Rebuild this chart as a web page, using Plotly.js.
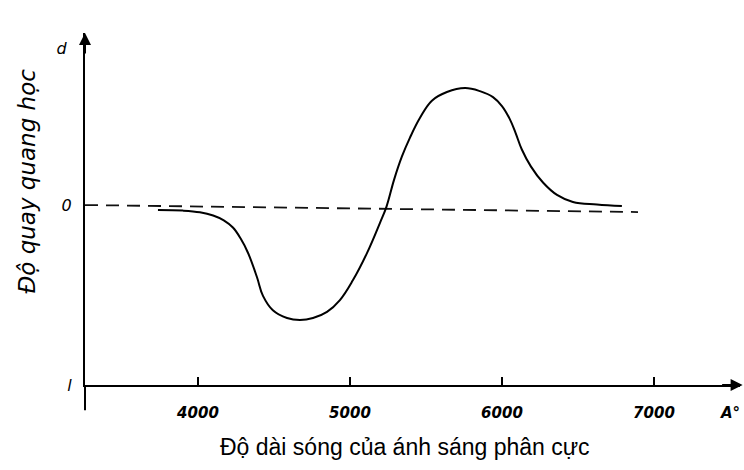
<!DOCTYPE html>
<html>
<head>
<meta charset="utf-8">
<script src="https://cdn.plot.ly/plotly-3.0.1.min.js"></script>
<style>html,body{margin:0;padding:0;background:#fff;}#chart{width:744px;height:470px;}</style>
</head>
<body>
<div id="chart"></div>
<script>
// Wavelength (Å) and optical rotation
const wavelength = [3737, 3901, 4013, 4100, 4170, 4230, 4280, 4329, 4388, 4428, 4493, 4586, 4671, 4757, 4849, 4934, 5020, 5112, 5197, 5240, 5290, 5342, 5395, 5461, 5539, 5638, 5757, 5855, 5941, 6000, 6050, 6090, 6130, 6190, 6270, 6362, 6467, 6625, 6789];
const rotation = [-0.028, -0.031, -0.040, -0.058, -0.085, -0.125, -0.185, -0.265, -0.40, -0.505, -0.585, -0.628, -0.639, -0.628, -0.594, -0.528, -0.417, -0.267, -0.1, -0.01, 0.14, 0.27, 0.375, 0.485, 0.58, 0.628, 0.65, 0.633, 0.6, 0.55, 0.48, 0.40, 0.31, 0.215, 0.125, 0.056, 0.017, 0.003, -0.006];
// Dashed zero reference line
const baseX = [3257, 6895];
const baseY = [0, -0.039];
// Tick labels
const xTickVals = [4000, 5000, 6000, 7000];
const xTickText = ['4000', '5000', '6000', '7000'];
const yTickVals = [-1, 0, 0.872];
const yTickText = ['l', '0', 'd '];

const traces = [
  {x: baseX, y: baseY, mode: 'lines', line: {color: '#111', width: 1.8, dash: '13px,8px'}, hoverinfo: 'skip'},
  {x: wavelength, y: rotation, mode: 'lines', line: {color: '#000', width: 2, shape: 'spline', smoothing: 1.1}}
];

const layout = {
  width: 744, height: 470,
  margin: {l: 85, r: 4, t: 33, b: 85},
  paper_bgcolor: '#fff', plot_bgcolor: '#fff',
  showlegend: false,
  font: {family: 'Liberation Sans, Arial, sans-serif', color: '#000'},
  xaxis: {
    range: [3257, 7566], showgrid: false, zeroline: false,
    showline: true, linecolor: '#000', linewidth: 2,
    ticks: 'inside', ticklen: 8, tickwidth: 1.5, tickcolor: '#000',
    tickvals: xTickVals, ticktext: xTickText,
    tickfont: {family: 'DejaVu Sans, sans-serif', size: 15, style: 'italic', weight: 'bold'},
    ticklabelstandoff: 13
  },
  yaxis: {
    range: [-1, 0.956], showgrid: false, zeroline: false,
    showline: true, linecolor: '#000', linewidth: 2,
    ticks: '', tickvals: yTickVals, ticktext: yTickText,
    tickfont: {family: 'DejaVu Sans, sans-serif', size: 16, style: 'italic'},
    ticklabelstandoff: 8
  },
  shapes: [
    {type: 'line', xref: 'paper', yref: 'paper', x0: 0, x1: 0, y0: 0, y1: -0.072, line: {color: '#000', width: 2}}
  ],
  annotations: [
    {xref: 'paper', yref: 'paper', x: 0, y: 1, ax: 0, ay: 22, text: '', showarrow: true, arrowhead: 2, arrowsize: 1.2, arrowwidth: 2, arrowcolor: '#000'},
    {xref: 'paper', yref: 'paper', x: 1.004, y: 0, ax: -22, ay: 0, text: '', showarrow: true, arrowhead: 2, arrowsize: 1.2, arrowwidth: 2, arrowcolor: '#000'},
    {xref: 'paper', yref: 'paper', x: 0.985, y: -0.08, text: 'A°', showarrow: false, xanchor: 'center', yanchor: 'middle', font: {family: 'DejaVu Sans, sans-serif', size: 15, style: 'italic', weight: 'bold'}},
    {xref: 'paper', yref: 'paper', x: -0.089, y: 0.58, text: 'Độ quay quang học', textangle: -90, showarrow: false, xanchor: 'center', yanchor: 'middle', font: {family: 'DejaVu Sans, sans-serif', size: 23, style: 'italic'}},
    {xref: 'paper', yref: 'paper', x: 0.489, y: -0.177, text: 'Độ dài sóng của ánh sáng phân cực', showarrow: false, xanchor: 'center', yanchor: 'middle', font: {family: 'Liberation Sans, Arial, sans-serif', size: 23}}
  ]
};

Plotly.newPlot('chart', traces, layout, {displayModeBar: false, staticPlot: true});
</script>
</body>
</html>
